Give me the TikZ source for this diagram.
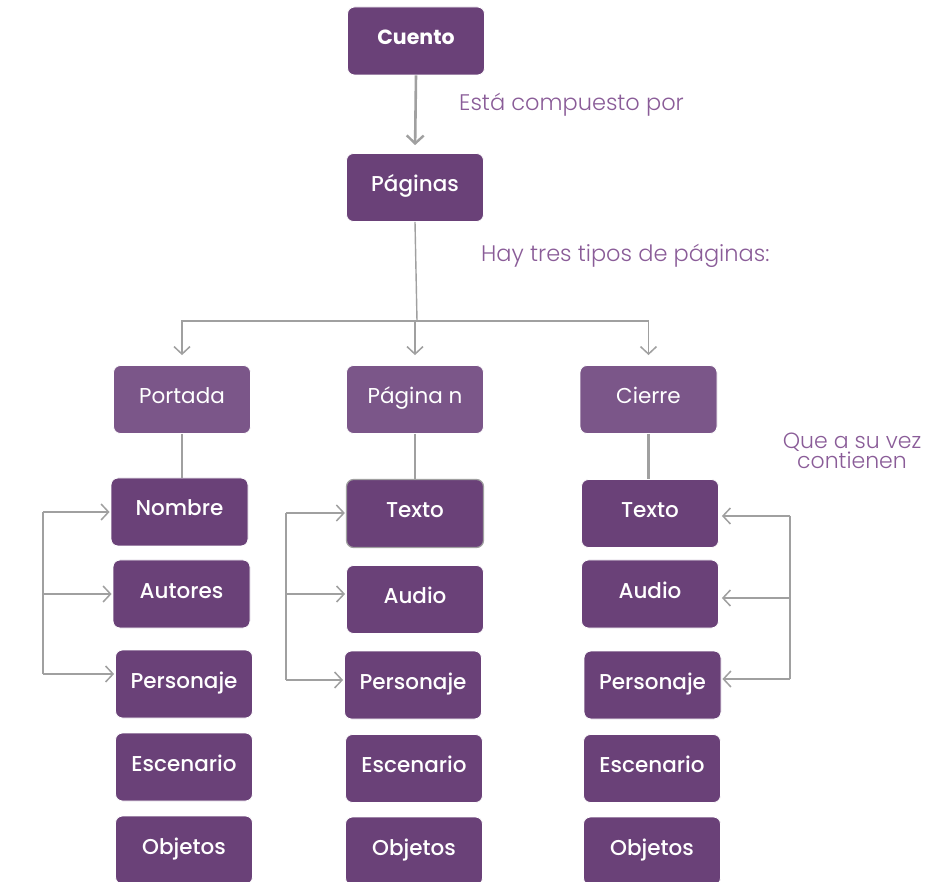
\documentclass[tikz,border=0pt]{standalone}
\usepackage{fontspec}
\setmainfont{Poppins}
\newfontfamily\lightfont{Poppins Light}
\newfontfamily\medfont{Poppins Medium}
\usetikzlibrary{arrows.meta}
\definecolor{boxdark}{HTML}{6A4178}
\definecolor{boxlight}{HTML}{7B5689}
\definecolor{linegray}{HTML}{A0A0A0}
\definecolor{notepurple}{HTML}{8A5C98}
\tikzset{
  box/.style={draw=white, line width=0.8pt, fill=boxdark, rounded corners=7pt,
    minimum width=137pt, minimum height=68pt, inner sep=0pt,
    text=white, font=\medfont\fontsize{21.5}{21.5}\selectfont,
    text height=20pt, text depth=12pt},
  typebox/.style={box, fill=boxlight, font=\fontsize{21.5}{21.5}\selectfont},
  selbox/.style={box, draw=linegray, line width=1.2pt},
  note/.style={text=notepurple, font=\lightfont\fontsize{22.5}{22.5}\selectfont, inner sep=0pt},
  link/.style={draw=linegray, line width=1.4pt},
  stem/.style={draw=linegray, line width=2.6pt},
  arr/.style={link, -{Straight Barb[length=7.5pt,width=16pt,line width=1.5pt]}},
  bigarr/.style={stem, -{Straight Barb[length=8pt,width=17pt,line width=2.4pt]}}
}
\begin{document}
\begin{tikzpicture}[x=1pt,y=-1pt]
\useasboundingbox[fill=white] (0,0) rectangle (938,882);

% top of the tree
\node[box, font=\bfseries\fontsize{20.5}{20.5}\selectfont] (cuento) at (416,41) {Cuento};
\node[box] (paginas) at (415,187.5) {Páginas};

% three page types
\node[typebox] (portada) at (182,399.5) {Portada};
\node[typebox] (pagn) at (415,399.5) {Página n};
\node[typebox] (cierre) at (648.5,399.5) {Cierre};

% contents of the cover
\node[box] (nombre) at (179.5,512) {Nombre};
\node[box] (autores) at (181.5,594) {Autores};
\node[box] (pers1) at (184,684) {Personaje};
\node[box] (esc1) at (184,767) {Escenario};
\node[box] (obj1) at (184,850) {Objetos};

% contents of page n
\node[selbox] (texto2) at (415,513.5) {Texto};
\node[box] (audio2) at (415,599.5) {Audio};
\node[box] (pers2) at (413,685) {Personaje};
\node[box] (esc2) at (414,768.5) {Escenario};
\node[box] (obj2) at (414,851) {Objetos};

% contents of the closing page
\node[box] (texto3) at (650,513.5) {Texto};
\node[box] (audio3) at (650,594) {Audio};
\node[box] (pers3) at (652.5,685) {Personaje};
\node[box] (esc3) at (652,768.5) {Escenario};
\node[box] (obj3) at (652,851) {Objetos};

% notes
\node[note, anchor=west] (n1) at (459,105) {Está compuesto por};
\node[note, anchor=west] (n2) at (481,256) {Hay tres tipos de páginas:};
\node[note, align=center, font=\lightfont\fontsize{22}{18}\selectfont] (n3) at (852,451) {Que a su vez\\contienen};

% Cuento -> Páginas
\draw[bigarr, shorten >=8pt] (cuento.south) -- (paginas.north);

% Páginas -> the three types
\coordinate (bus) at (417,321);
\draw[link] (paginas.south) -- (bus);
\draw[arr, shorten >=10pt] (bus) -| (portada.north);
\draw[arr, shorten >=10pt] (bus) -| (pagn.north);
\draw[arr, shorten >=10pt] (bus) -| (cierre.north);

% each type -> its first item
\draw[stem] (portada.south) -- (portada.south |- nombre.north);
\draw[stem] (pagn.south) -- (pagn.south |- texto2.north);
\draw[stem] (cierre.south) -- (cierre.south |- texto3.north);

% bracket of the cover
\coordinate (a1) at (43,512);
\coordinate (b1) at (43,594);
\coordinate (c1) at (43,674);
\draw[link] (a1) -- (c1);
\draw[arr, shorten >=1pt] (a1) -- (nombre.west);
\draw[arr, shorten >=1pt] (b1) -- (autores.west);
\draw[arr, shorten >=1pt] (c1) -- (c1 -| pers1.west);

% bracket of page n
\coordinate (a2) at (286,513);
\coordinate (b2) at (286,594);
\coordinate (c2) at (286,680);
\draw[link] (a2) -- (c2);
\draw[arr, shorten >=1pt] (a2) -- (a2 -| texto2.west);
\draw[arr, shorten >=1pt] (b2) -- (b2 -| audio2.west);
\draw[arr, shorten >=1pt] (c2) -- (c2 -| pers2.west);

% bracket of the closing page
\coordinate (a3) at (790,516);
\coordinate (b3) at (790,598);
\coordinate (c3) at (790,679);
\draw[link] (a3) -- (c3);
\draw[arr, shorten >=3pt] (a3) -- (a3 -| texto3.east);
\draw[arr, shorten >=3pt] (b3) -- (b3 -| audio3.east);
\draw[arr, shorten >=1pt] (c3) -- (c3 -| pers3.east);
\end{tikzpicture}
\end{document}
